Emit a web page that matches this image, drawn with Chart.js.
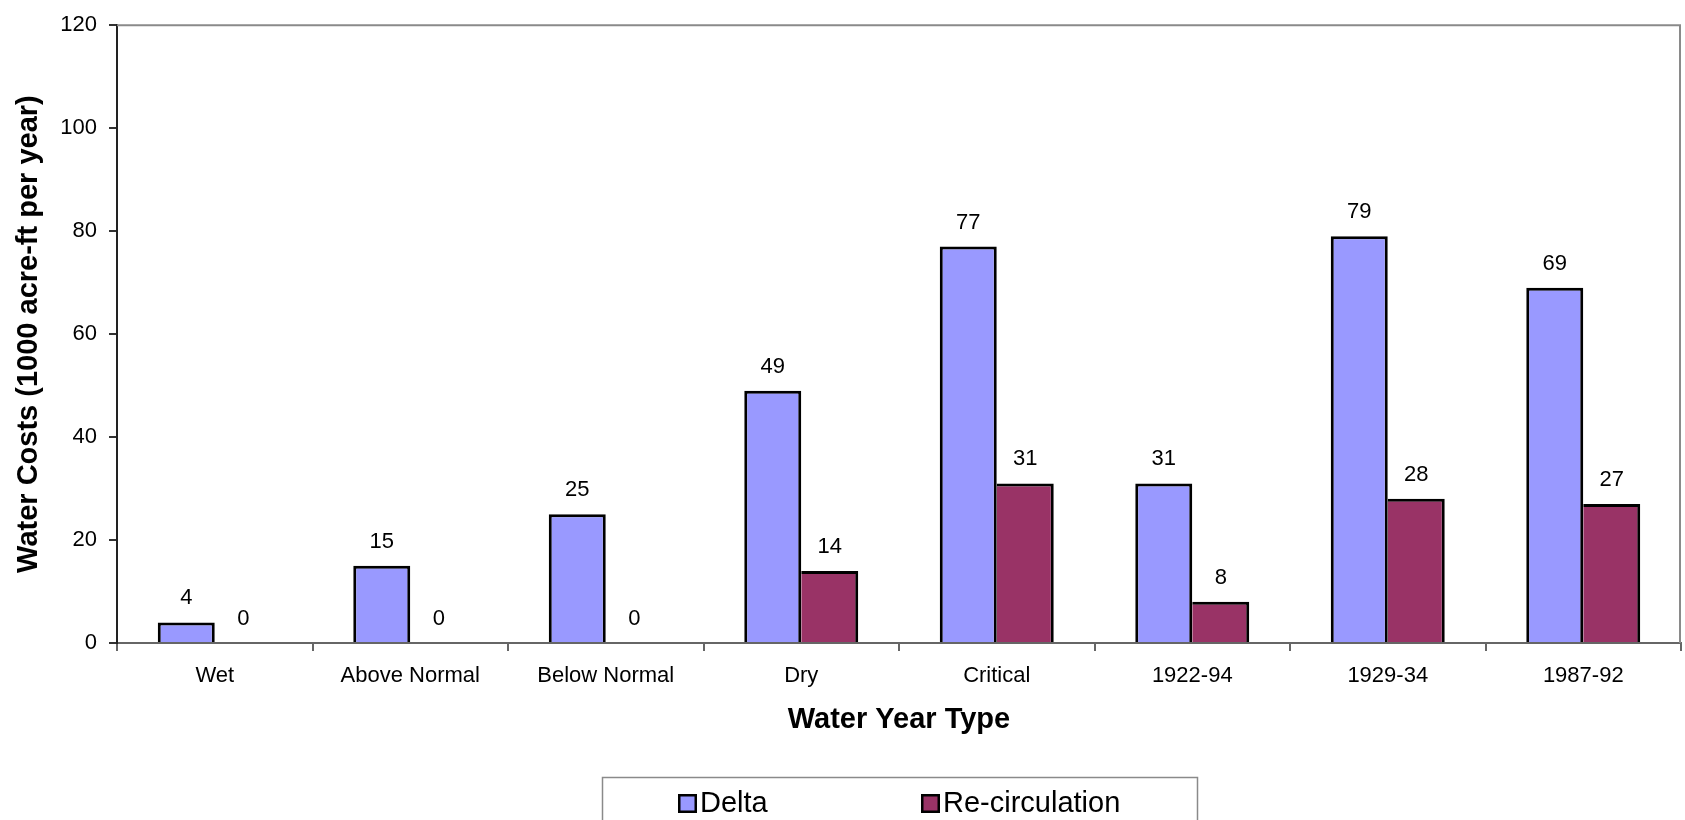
<!DOCTYPE html>
<html>
<head>
<meta charset="utf-8">
<script src="https://cdn.jsdelivr.net/npm/chart.js@4.4.0/dist/chart.umd.min.js"></script>
<style>
  html, body { margin: 0; padding: 0; background: #fff; }
  #wrap { width: 1685px; height: 820px; position: relative; }
  canvas { display: block; }
</style>
</head>
<body>
<div id="wrap"><canvas id="chart" width="1685" height="820"></canvas></div>
<script>
// Water year categories and the two cost series (1000 acre-ft per year)
const categories = ['Wet', 'Above Normal', 'Below Normal', 'Dry', 'Critical', '1922-94', '1929-34', '1987-92'];
const deltaValues = [4, 15, 25, 49, 77, 31, 79, 69];
const recirculationValues = [0, 0, 0, 14, 31, 8, 28, 27];
const seriesNames = ['Delta', 'Re-circulation'];
const yTicks = [0, 20, 40, 60, 80, 100, 120];

const FONT = "'Liberation Sans', Arial, sans-serif";

// Value labels drawn above every bar
const valueLabels = {
  id: 'valueLabels',
  afterDatasetsDraw(chart) {
    const ctx = chart.ctx;
    ctx.save();
    ctx.font = '22px ' + FONT;
    ctx.fillStyle = '#000';
    ctx.textAlign = 'center';
    ctx.textBaseline = 'alphabetic';
    chart.data.datasets.forEach((ds, i) => {
      const meta = chart.getDatasetMeta(i);
      meta.data.forEach((bar, j) => {
        ctx.fillText(String(ds.data[j]), bar.x, bar.y - 18);
      });
    });
    ctx.restore();
  }
};

// Grey frame on the top and right of the plot area, plus the boxed legend
const frameAndLegend = {
  id: 'frameAndLegend',
  afterDraw(chart) {
    const ctx = chart.ctx;
    const a = chart.chartArea;
    ctx.save();
    ctx.strokeStyle = '#8a8a8a';
    ctx.lineWidth = 2;
    ctx.beginPath();
    ctx.moveTo(a.left, a.top);
    ctx.lineTo(a.right - 1, a.top);
    ctx.lineTo(a.right - 1, a.bottom);
    ctx.stroke();

    // legend box (runs off the bottom edge of the canvas)
    ctx.strokeStyle = '#8a8a8a';
    ctx.lineWidth = 1.5;
    ctx.strokeRect(602.5, 777.5, 595, 60);

    const swatchX = [678, 921];
    ctx.font = '29px ' + FONT;
    ctx.textBaseline = 'middle';
    ctx.textAlign = 'left';
    chart.data.datasets.forEach((ds, i) => {
      const x = swatchX[i];
      const y = 794;
      ctx.fillStyle = ds.backgroundColor;
      ctx.fillRect(x, y, 19, 19);
      ctx.strokeStyle = '#000';
      ctx.lineWidth = 2.5;
      ctx.strokeRect(x + 1.25, y + 1.25, 16.5, 16.5);
      ctx.fillStyle = '#000';
      ctx.fillText(ds.label, x + 22, y + 10);
    });
    ctx.restore();
  }
};

new Chart(document.getElementById('chart'), {
  type: 'bar',
  data: {
    labels: categories,
    datasets: [
      {
        label: seriesNames[0],
        data: deltaValues,
        backgroundColor: '#9999ff',
        borderColor: '#000',
        borderWidth: 3,
        categoryPercentage: 0.583,
        barPercentage: 1.0
      },
      {
        label: seriesNames[1],
        data: recirculationValues,
        backgroundColor: '#993366',
        borderColor: '#000',
        // the left edge is shared with the Delta bar's right border
        borderWidth: { top: 3, right: 3, bottom: 3, left: 0 },
        categoryPercentage: 0.583,
        barPercentage: 1.0
      }
    ]
  },
  options: {
    responsive: false,
    animation: false,
    devicePixelRatio: 1,
    layout: { padding: { top: 20, right: 4, left: 0, bottom: 0 } },
    plugins: {
      legend: { display: false },
      tooltip: { enabled: false }
    },
    scales: {
      x: {
        grid: {
          offset: true,
          drawOnChartArea: false,
          drawTicks: true,
          tickLength: 8,
          color: '#666',
          lineWidth: 2
        },
        border: { display: true, color: '#666', width: 2 },
        ticks: {
          color: '#000',
          font: { family: FONT, size: 22 },
          padding: 12,
          maxRotation: 0,
          autoSkip: false
        },
        title: {
          display: true,
          text: 'Water Year Type',
          color: '#000',
          font: { family: FONT, size: 29, weight: 'bold' },
          padding: { top: 0, bottom: 83 }
        },
        afterFit(scale) { scale.height = 177; }
      },
      y: {
        min: 0,
        max: 120,
        afterBuildTicks(scale) { scale.ticks = yTicks.map(v => ({ value: v })); },
        grid: {
          drawOnChartArea: false,
          drawTicks: true,
          tickLength: 8,
          color: '#333',
          lineWidth: 2
        },
        border: { display: true, color: '#222', width: 2 },
        ticks: {
          color: '#000',
          font: { family: FONT, size: 22 },
          padding: 12
        },
        title: {
          display: true,
          text: 'Water Costs (1000 acre-ft per year)',
          color: '#000',
          font: { family: FONT, size: 29, weight: 'bold' },
          padding: { top: 12, bottom: 0 }
        },
        afterFit(scale) { scale.width = 117; }
      }
    }
  },
  plugins: [valueLabels, frameAndLegend]
});
</script>
</body>
</html>
